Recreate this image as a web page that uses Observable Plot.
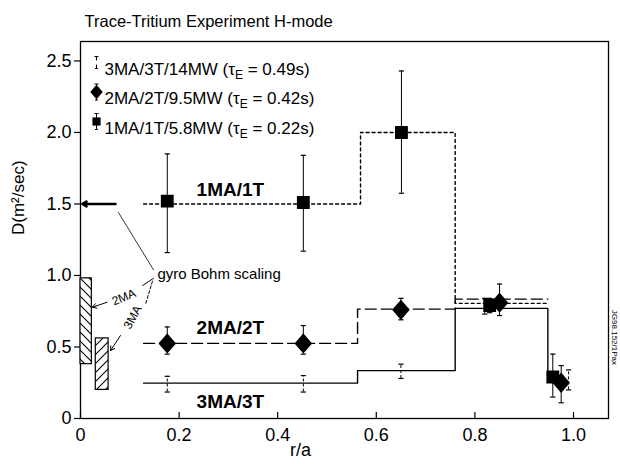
<!DOCTYPE html>
<html><head><meta charset="utf-8">
<script src="https://cdn.jsdelivr.net/npm/d3@7"></script>
<script src="https://cdn.jsdelivr.net/npm/@observablehq/plot@0.6"></script>
<style>body{margin:0;background:#fff} svg{display:block}</style>
</head><body><div id="chart"></div>
<script>
// ---- text ----
const title = "Trace-Tritium Experiment H-mode";
const yLabel = "D(m²/sec)";
const xLabel = "r/a";
const stampText = "JG98.152/1Pax";
const xTicks = [0, 0.2, 0.4, 0.6, 0.8, 1.0];
const yTicks = [0, 0.5, 1.0, 1.5, 2.0, 2.5];
const legendLabels = ["3MA/3T/14MW (τ_E = 0.49s)", "2MA/2T/9.5MW (τ_E = 0.42s)", "1MA/1T/5.8MW (τ_E = 0.22s)"];
const seriesLabels = ["1MA/1T", "2MA/2T", "3MA/3T"];
const seriesLabelX = [0.304, 0.304, 0.304];
const seriesLabelY = [1.6, 0.63, 0.114];

// ---- 1MA/1T (squares, dotted) ----
const r1 = [0.176, 0.452, 0.651, 0.83, 0.958];
const d1 = [1.52, 1.51, 2.0, 0.79, 0.29];
const lo1 = [1.16, 1.17, 1.575, 0.74, 0.15];
const hi1 = [1.85, 1.84, 2.43, 0.84, 0.45];
const edges1 = [0.128, 0.568, 0.76, 0.945];
const levels1 = [1.5, 2.0, 0.805];

// ---- 2MA/2T (diamonds, dashed) ----
const r2 = [0.176, 0.452, 0.65, 0.85, 0.975];
const d2 = [0.525, 0.525, 0.76, 0.81, 0.25];
const lo2 = [0.45, 0.45, 0.69, 0.72, 0.11];
const hi2 = [0.64, 0.65, 0.84, 0.94, 0.37];
const edges2 = [0.128, 0.562, 0.76, 0.948];
const levels2 = [0.525, 0.765, 0.835];

// ---- 3MA/3T (error bars only, solid) ----
const r3 = [0.176, 0.452, 0.65, 0.82, 0.99];
const d3v = [0.247, 0.247, 0.33, 0.78, 0.27];
const lo3 = [0.185, 0.185, 0.28, 0.73, 0.2];
const hi3 = [0.295, 0.3, 0.38, 0.84, 0.34];
const edges3 = [0.128, 0.562, 0.76, 0.948];
const levels3 = [0.247, 0.335, 0.77];
const drop3 = 0.3;

// ---- gyro-Bohm scaling ranges (hatched) ----
const gbLabels = ["2MA", "3MA"];
const gbX1 = [0.0, 0.031];
const gbX2 = [0.023, 0.057];
const gbLo = [0.38, 0.2];
const gbHi = [0.98, 0.56];
const gbValue1MA = 1.5;

// ---- annotation leader geometry (data units) ----
const annText = "gyro Bohm scaling";
const annTextX = 0.156, annTextY = 1.01;
const leaderThin = [{x: 0.077, y: 1.44}, {x: 0.148, y: 1.04}];
const leader2a = [{x: 0.148, y: 0.98}, {x: 0.126, y: 0.93}];
const leader3a = [{x: 0.146, y: 0.96}, {x: 0.132, y: 0.8}];
const arrowRows = [
  {x1: 0.071, y1: gbValue1MA, x2: 0.004, y2: gbValue1MA, w: 2.6, dash: null},
  {x1: 0.054, y1: 0.813, x2: 0.024, y2: 0.778, w: 1, dash: null},
  {x1: 0.081, y1: 0.58, x2: 0.061, y2: 0.475, w: 1, dash: "3,2"}
];
const gbLabelX = [0.088, 0.106];
const gbLabelY = [0.848, 0.708];
const gbLabelRot = [-22, -62];

// ---- helpers ----
const rows = (xs, ys, los, his) => xs.map((x, i) => ({x, y: ys[i], lo: los[i], hi: his[i]}));
const steps = (edges, levels) => edges.map((x, i) => ({x, y: levels[Math.min(i, levels.length - 1)]}));
const rows1 = rows(r1, d1, lo1, hi1);
const rows2 = rows(r2, d2, lo2, hi2);
const rows3 = rows(r3, d3v, lo3, hi3);
const step1 = steps(edges1, levels1);
const step2 = steps(edges2, levels2);
const step3 = steps(edges3, levels3).concat([{x: edges3[edges3.length - 1], y: drop3}]);
const gbRows = gbLabels.map((l, i) => ({l, x1: gbX1[i], x2: gbX2[i], y1: gbLo[i], y2: gbHi[i], lx: gbLabelX[i], ly: gbLabelY[i], rot: gbLabelRot[i]}));

const capSym = {draw(ctx, size) { const s = Math.sqrt(size / Math.PI); ctx.moveTo(-s, 0); ctx.lineTo(s, 0); }};
const rhombus = {draw(ctx, size) { const s = Math.sqrt(size / Math.PI); ctx.moveTo(0, -1.5 * s); ctx.lineTo(1.3 * s, 0); ctx.lineTo(0, 1.5 * s); ctx.lineTo(-1.3 * s, 0); ctx.closePath(); }};
const ibar = {draw(ctx, size) { const s = Math.sqrt(size / Math.PI);
  ctx.moveTo(-2, -s); ctx.lineTo(2, -s); ctx.moveTo(0, -s); ctx.lineTo(0, -0.35 * s);
  ctx.moveTo(0, 0.35 * s); ctx.lineTo(0, s); ctx.moveTo(-1.5, s); ctx.lineTo(1.5, s); }};

const errMarks = (data, dash) => [
  Plot.ruleX(data, {x: "x", y1: "lo", y2: "hi", stroke: "black", strokeWidth: 1, strokeDasharray: dash}),
  Plot.dot(data, {x: "x", y: "hi", symbol: capSym, r: 2.6, stroke: "black", strokeWidth: 1.2}),
  Plot.dot(data, {x: "x", y: "lo", symbol: capSym, r: 2.6, stroke: "black", strokeWidth: 1.2})
];

const legendMarks = [];
const legSyms = [
  [{symbol: ibar, r: 6, fill: "none", stroke: "black", strokeWidth: 1}],
  [{symbol: ibar, r: 8, fill: "none", stroke: "black", strokeWidth: 1}, {symbol: rhombus, r: 4.8, fill: "black", stroke: "black", strokeWidth: 0}],
  [{symbol: ibar, r: 8, fill: "none", stroke: "black", strokeWidth: 1}, {symbol: "square", r: 4.6, fill: "black", stroke: "black", strokeWidth: 0}]
];
legendLabels.forEach((t, i) => {
  legSyms[i].forEach(o => legendMarks.push(Plot.dot([t], {frameAnchor: "top-left", dx: 16, dy: 21 + 29.5 * i, ...o})));
  legendMarks.push(Plot.text([t], {frameAnchor: "top-left", dx: 24, dy: 21 + 29.5 * i, textAnchor: "start", fontSize: 17, className: "legend-text"}));
});

const chart = Plot.plot({
  width: 620, height: 464,
  marginLeft: 80, marginRight: 12, marginTop: 41, marginBottom: 46,
  x: {domain: [0, 1.071]},
  y: {domain: [0, 2.636]},
  style: {fontFamily: "'Liberation Sans', Arial, sans-serif", fontSize: "15px", color: "#000", background: "#fff"},
  marks: [
    Plot.frame({stroke: "black", strokeWidth: 1.3}),
    // hatched gyro-Bohm ranges
    Plot.rect(gbRows.slice(0, 1), {x1: "x1", x2: "x2", y1: "y1", y2: "y2", fill: "url(#hatchB)", stroke: "black", strokeWidth: 1.2}),
    Plot.rect(gbRows.slice(1), {x1: "x1", x2: "x2", y1: "y1", y2: "y2", fill: "url(#hatchF)", stroke: "black", strokeWidth: 1.2}),
    // step profiles
    Plot.line(step1, {x: "x", y: "y", curve: "step-after", stroke: "black", strokeWidth: 1.4, strokeDasharray: "3,3"}),
    Plot.line(step2, {x: "x", y: "y", curve: "step-after", stroke: "black", strokeWidth: 1.4, strokeDasharray: "11,5"}),
    Plot.line(step3, {x: "x", y: "y", curve: "step-after", stroke: "black", strokeWidth: 1.4}),
    // error bars and points
    ...errMarks(rows3, "3,2"),
    ...errMarks(rows2, null),
    ...errMarks(rows1, null),
    Plot.dot(rows2, {x: "x", y: "y", symbol: rhombus, r: 6, fill: "black", stroke: "black"}),
    Plot.dot(rows1, {x: "x", y: "y", symbol: "square", r: 6.4, fill: "black", stroke: "black"}),
    // series labels
    Plot.text(seriesLabels, {x: (d, i) => seriesLabelX[i], y: (d, i) => seriesLabelY[i], text: d => d, fontSize: 19, fontWeight: "bold"}),
    // annotation
    Plot.arrow(arrowRows, {x1: "x1", y1: "y1", x2: "x2", y2: "y2", stroke: "black", strokeWidth: "w", headLength: 7, bend: 0, strokeDasharray: "dash"}),
    Plot.line(leaderThin, {x: "x", y: "y", stroke: "black", strokeWidth: 0.8}),
    Plot.line(leader2a, {x: "x", y: "y", stroke: "black", strokeWidth: 1}),
    Plot.line(leader3a, {x: "x", y: "y", stroke: "black", strokeWidth: 1, strokeDasharray: "3,2"}),
    Plot.text(gbRows, {x: "lx", y: "ly", text: "l", rotate: "rot", fontSize: 12}),
    Plot.text([annText], {x: annTextX, y: annTextY, textAnchor: "start", fontSize: 15}),
    // legend
    ...legendMarks,
    // axes
    Plot.axisY(yTicks, {tickSize: 6, tickPadding: 3, fontSize: 18, strokeWidth: 1.2, label: null, tickFormat: d => d === 0 ? "0" : d.toFixed(1)}),
    Plot.axisX(xTicks, {tickSize: -6, tickPadding: 16, fontSize: 18, strokeWidth: 1.2, label: null, tickFormat: d => d === 0 ? "0" : d.toFixed(1)}),
    Plot.text([yLabel], {frameAnchor: "left", dx: -62, dy: 5, rotate: -90, fontSize: 17}),
    Plot.text([xLabel], {frameAnchor: "bottom", dx: -44, dy: 37, fontSize: 18}),
    Plot.text([title], {frameAnchor: "top-left", dx: 4, dy: -26, textAnchor: "start", fontSize: 16.5}),
    Plot.text([stampText], {frameAnchor: "right", dx: 6, dy: 135, rotate: 90, fontSize: 8})
  ]
});

// hatch patterns
const svg = d3.select(chart);
const defs = svg.insert("defs", ":first-child");
const addHatch = (id, path) => {
  const p = defs.append("pattern").attr("id", id).attr("patternUnits", "userSpaceOnUse").attr("width", 9).attr("height", 9);
  p.append("rect").attr("width", 9).attr("height", 9).attr("fill", "white");
  p.append("path").attr("d", path).attr("stroke", "black").attr("stroke-width", 1.1).attr("fill", "none");
};
addHatch("hatchB", "M-2,-2L11,11M-2,7L2,11M7,-2L11,2");
addHatch("hatchF", "M-2,11L11,-2M-2,2L2,-2M7,11L11,7");

// subscript E in tau_E
svg.selectAll("g.legend-text text").each(function() {
  const t = this.textContent;
  const parts = t.split("_E");
  if (parts.length !== 2) return;
  const el = d3.select(this);
  el.text(null);
  el.append("tspan").text(parts[0]);
  el.append("tspan").attr("dy", 4).attr("font-size", 12).text("E");
  el.append("tspan").attr("dy", -4).text(parts[1]);
});

document.getElementById("chart").append(chart);
</script>
</body></html>
